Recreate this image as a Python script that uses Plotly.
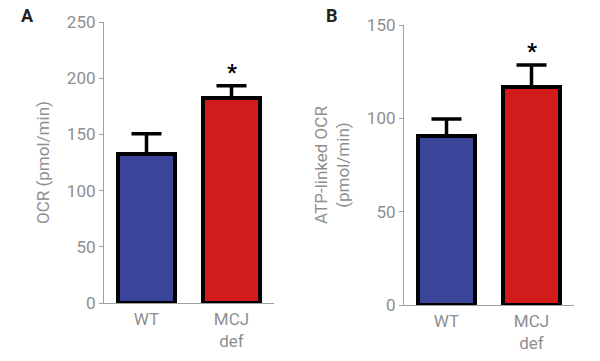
import plotly.graph_objects as go

categories = ["WT", "MCJ<br>def"]
ocr_values = [132.5, 182.7]
ocr_errors = [18.0, 10.6]
atp_values = [90.7, 116.6]
atp_errors = [9.0, 12.0]
bar_colors = ["#3a4599", "#d21c1c"]
ocr_ticks = [0, 50, 100, 150, 200, 250]
atp_ticks = [0, 50, 100, 150]
star_y_ocr = 205
star_y_atp = 136

fig = go.Figure()

for vals, errs, xa, ya in [(ocr_values, ocr_errors, "x", "y"), (atp_values, atp_errors, "x2", "y2")]:
    fig.add_trace(go.Bar(
        x=categories, y=vals, xaxis=xa, yaxis=ya, width=0.66,
        marker=dict(color=bar_colors, line=dict(color="black", width=4)),
        error_y=dict(type="data", symmetric=False, array=errs, arrayminus=[0, 0],
                     color="black", thickness=3.5, width=15),
        showlegend=False,
    ))

gray = "#8e8e8e"
axis_font = dict(family="Roboto, Arial, sans-serif", size=17, color=gray)

common_x = dict(type="category", range=[-0.5, 1.5], showline=True, linecolor="#a0a0a0",
                linewidth=1.2, ticks="", showgrid=False, tickfont=axis_font, zeroline=False,
                automargin=False)
common_y = dict(showline=True, linecolor="#a0a0a0", linewidth=1.2, ticks="outside",
                ticklen=4, tickcolor="#a0a0a0", showgrid=False, tickfont=axis_font,
                zeroline=False, automargin=False)

fig.update_layout(
    width=600, height=361,
    margin=dict(l=0, r=0, t=0, b=0),
    paper_bgcolor="white", plot_bgcolor="white",
    bargap=0,
    xaxis=dict(common_x, domain=[104/600, 274/600], anchor="y"),
    yaxis=dict(common_y, domain=[1-303/361, 1-22/361], range=[0, 250], tickvals=ocr_ticks,
               anchor="x",
               title=dict(text="OCR (pmol/min)", font=axis_font, standoff=12)),
    xaxis2=dict(common_x, domain=[404/600, 574/600], anchor="y2"),
    yaxis2=dict(common_y, domain=[1-305/361, 1-25/361], range=[0, 150], tickvals=atp_ticks,
                anchor="x2",
                title=dict(text="ATP-linked OCR<br>(pmol/min)", font=axis_font, standoff=12)),
)

fig.add_annotation(text="<b>A</b>", x=27/600, y=1-15/361, xref="paper", yref="paper",
                   xanchor="center", yanchor="middle",
                   showarrow=False, font=dict(family="Roboto, Arial", size=18, color="#222"))
fig.add_annotation(text="<b>B</b>", x=332/600, y=1-15/361, xref="paper", yref="paper",
                   xanchor="center", yanchor="middle",
                   showarrow=False, font=dict(family="Roboto, Arial", size=18, color="#222"))
fig.add_annotation(text="<b>*</b>", x=categories[1], y=star_y_ocr, xref="x", yref="y",
                   showarrow=False, font=dict(family="Roboto, Arial", size=22, color="black"))
fig.add_annotation(text="<b>*</b>", x=categories[1], y=star_y_atp, xref="x2", yref="y2",
                   showarrow=False, font=dict(family="Roboto, Arial", size=22, color="black"))

fig.write_html("out.html", config={"displayModeBar": False},
               post_script="document.body.style.margin='0';")
